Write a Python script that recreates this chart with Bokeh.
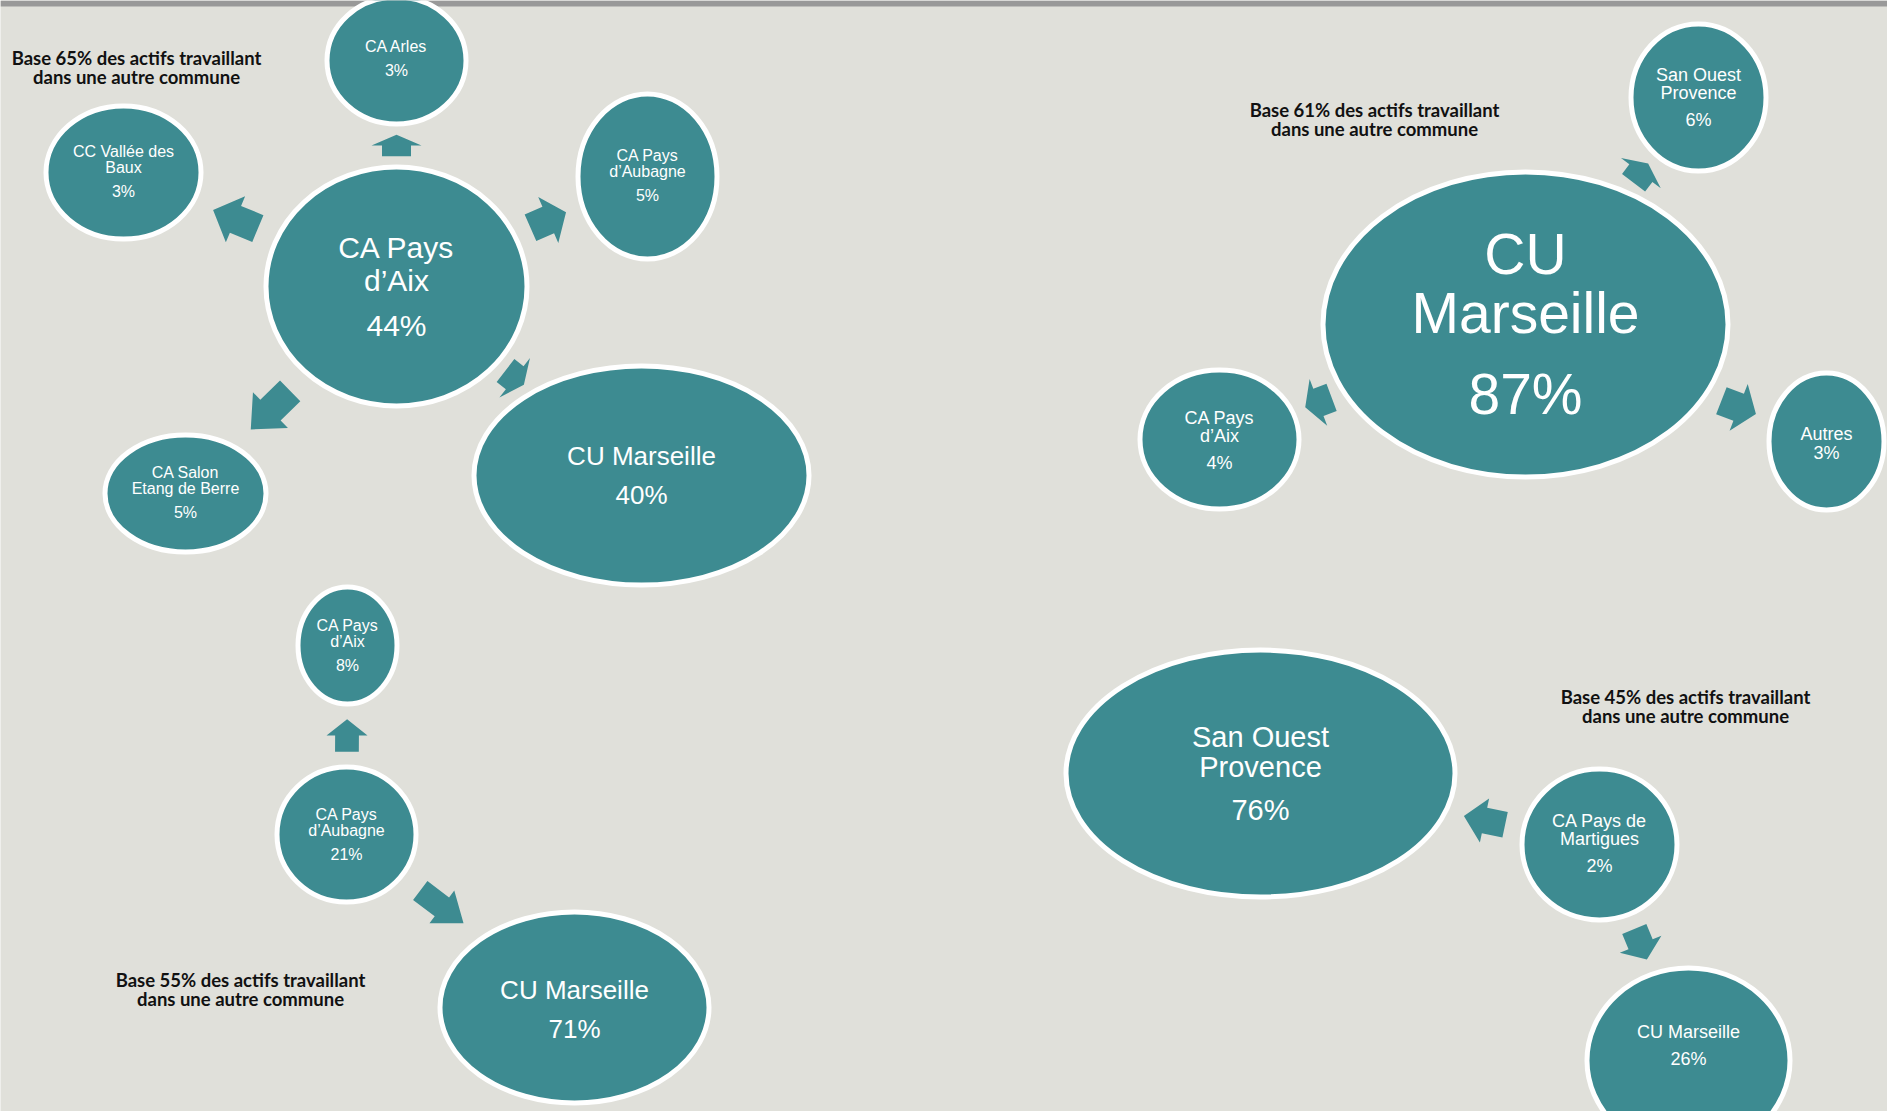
import math
from bokeh.plotting import figure
from bokeh.models import Range1d, ColumnDataSource
from bokeh.core.properties import value
from bokeh.embed import file_html
from bokeh.resources import INLINE

# ---------------- data ----------------
p1_title = ["Base 65% des actifs travaillant", "dans une autre commune"]
p1_names = ["CA Pays\nd’Aix", "CA Arles", "CC Vallée des\nBaux", "CA Pays\nd’Aubagne",
            "CA Salon\nEtang de Berre", "CU Marseille"]
p1_values = [44, 3, 3, 5, 5, 40]

p2_title = ["Base 61% des actifs travaillant", "dans une autre commune"]
p2_names = ["CU\nMarseille", "San Ouest\nProvence", "CA Pays\nd’Aix", "Autres"]
p2_values = [87, 6, 4, 3]

p3_title = ["Base 55% des actifs travaillant", "dans une autre commune"]
p3_names = ["CA Pays\nd’Aubagne", "CA Pays\nd’Aix", "CU Marseille"]
p3_values = [21, 8, 71]

p4_title = ["Base 45% des actifs travaillant", "dans une autre commune"]
p4_names = ["CA Pays de\nMartigues", "San Ouest\nProvence", "CU Marseille"]
p4_values = [2, 76, 26]

# ---------------- layout (positions / sizes / styles) ----------------
W, H = 1887, 1111
BG = "#E0E0DA"
TEAL = "#3D8B91"
FONT = "Liberation Sans"
STROKE = 5

# node layout: (cx, cy, rx, ry, font_px, tight, text_dy) -- rx/ry to outer edge
p1_layout = [(396, 286, 133, 122, 30, False, 0), (396, 60, 72, 66, 16, False, -1),
             (123, 172, 80, 69, 16, False, 0), (647, 176, 72, 85, 16, False, 0),
             (185, 493, 83, 61, 16, False, 0), (641, 475, 170, 112, 26, False, 0)]
p2_layout = [(1525, 324, 205, 155, 57, False, -4), (1698, 97, 70, 76, 18, False, 1),
             (1219, 439, 82, 72, 18, False, 2), (1826, 441, 60, 71, 18, True, 3)]
p3_layout = [(346, 834, 72, 70, 16, False, 1), (347, 645, 52, 61, 16, False, 1),
             (574, 1007, 137, 98, 26, False, 2)]
p4_layout = [(1599, 844, 80, 78, 18, False, 0), (1260, 773, 197, 126, 29, False, 0),
             (1688, 1060, 104, 95, 18, False, -14)]
arrow_w = [50, 50, 41, 45]
title_pos = [(136, 57), (1374, 109), (240, 979), (1685, 696)]

panels = [
    (p1_names, p1_values, p1_layout, p1_title),
    (p2_names, p2_values, p2_layout, p2_title),
    (p3_names, p3_values, p3_layout, p3_title),
    (p4_names, p4_values, p4_layout, p4_title),
]

p = figure(width=W, height=H, output_backend="svg", toolbar_location=None, tools="",
           x_range=Range1d(0, W), y_range=Range1d(H, 0),
           x_axis_location=None, y_axis_location=None, min_border=0)
p.grid.visible = False
p.outline_line_color = None
p.background_fill_color = BG
p.border_fill_color = BG

# top grey strip
p.quad(left=[0], right=[W], top=[0], bottom=[6], fill_color="#999999", line_color=None)


def boundary(c, r, d):
    t = 1.0 / math.sqrt((d[0] / r[0]) ** 2 + (d[1] / r[1]) ** 2)
    return (c[0] + d[0] * t, c[1] + d[1] * t)


def arrow(nsrc, ndst, wd):
    c0, c1 = (nsrc[0], nsrc[1]), (ndst[0], ndst[1])
    d = (c1[0] - c0[0], c1[1] - c0[1])
    b0 = boundary(c0, (nsrc[2], nsrc[3]), d)
    b1 = boundary(c1, (ndst[2], ndst[3]), (-d[0], -d[1]))
    gx, gy = b1[0] - b0[0], b1[1] - b0[1]
    gap = math.hypot(gx, gy)
    ux, uy = gx / gap, gy / gap
    nx, ny = -uy, ux
    L = 0.56 * gap
    mx, my = (b0[0] + b1[0]) / 2, (b0[1] + b1[1]) / 2
    bx, by = mx - ux * L / 2, my - uy * L / 2
    tx, ty = mx + ux * L / 2, my + uy * L / 2
    hx, hy = tx - ux * L * 0.5, ty - uy * L * 0.5
    sw, hw = 0.29 * wd, 0.5 * wd
    pts = [(bx + nx * sw, by + ny * sw), (hx + nx * sw, hy + ny * sw),
           (hx + nx * hw, hy + ny * hw), (tx, ty),
           (hx - nx * hw, hy - ny * hw), (hx - nx * sw, hy - ny * sw),
           (bx - nx * sw, by - ny * sw)]
    return [q[0] for q in pts], [q[1] for q in pts]


ax, ay = [], []
ex, ey, ew, eh = [], [], [], []
tx_, ty_, tt, tsz = [], [], [], []
for k, (names, vals, lay, title) in enumerate(panels):
    hub = lay[0]
    for node in lay[1:]:
        xs, ys = arrow(hub, node, arrow_w[k])
        ax.append(xs)
        ay.append(ys)
    for name, v, node in zip(names, vals, lay):
        cx, cy, rx, ry, fs, tight, tdy = node
        ex.append(cx); ey.append(cy)
        ew.append(2 * rx - STROKE); eh.append(2 * ry - STROKE)
        lines = name.split("\n")
        s = (1.1 if 29 < fs < 40 else 1.03) * fs
        g = s if tight else min(1.5 * fs, fs + 24)
        cap = 0.72 * fs
        total = cap + (len(lines) - 1) * s + g
        shift = 7 + 0.25 * (fs - 16)
        b = cy - shift - total / 2 + cap + tdy
        for i, ln in enumerate(lines):
            tx_.append(cx); ty_.append(b + i * s); tt.append(ln); tsz.append(f"{fs}px")
        tx_.append(cx); ty_.append(b + (len(lines) - 1) * s + g)
        tt.append(f"{v}%"); tsz.append(f"{fs}px")

p.patches(xs=ax, ys=ay, fill_color=TEAL, line_color=None)
p.ellipse(x=ex, y=ey, width=ew, height=eh, fill_color=TEAL,
          line_color="white", line_width=STROKE)

src = ColumnDataSource(dict(x=tx_, y=ty_, text=tt, size=tsz))
p.text(x="x", y="y", text="text", source=src, text_font=value(FONT),
       text_font_size="size", text_color="white", text_align="center",
       text_baseline="alphabetic")

# annotation titles
ttx, tty, ttt = [], [], []
for (x, y), title in zip(title_pos, [pp[3] for pp in panels]):
    for i, ln in enumerate(title):
        ttx.append(x); tty.append(y + 19 * i); ttt.append(ln)
p.text(x=ttx, y=tty, text=ttt, text_font=value("Lato"), text_font_style="bold",
       text_font_size="18.5px", text_color="#111111", text_align="center",
       text_baseline="alphabetic")

html = file_html(p, INLINE, title="Flux domicile-travail")
html = html.replace("<body>", '<body style="margin:0;overflow:hidden;background:#E0E0DA;">', 1)
open("out.html", "w").write(html)
